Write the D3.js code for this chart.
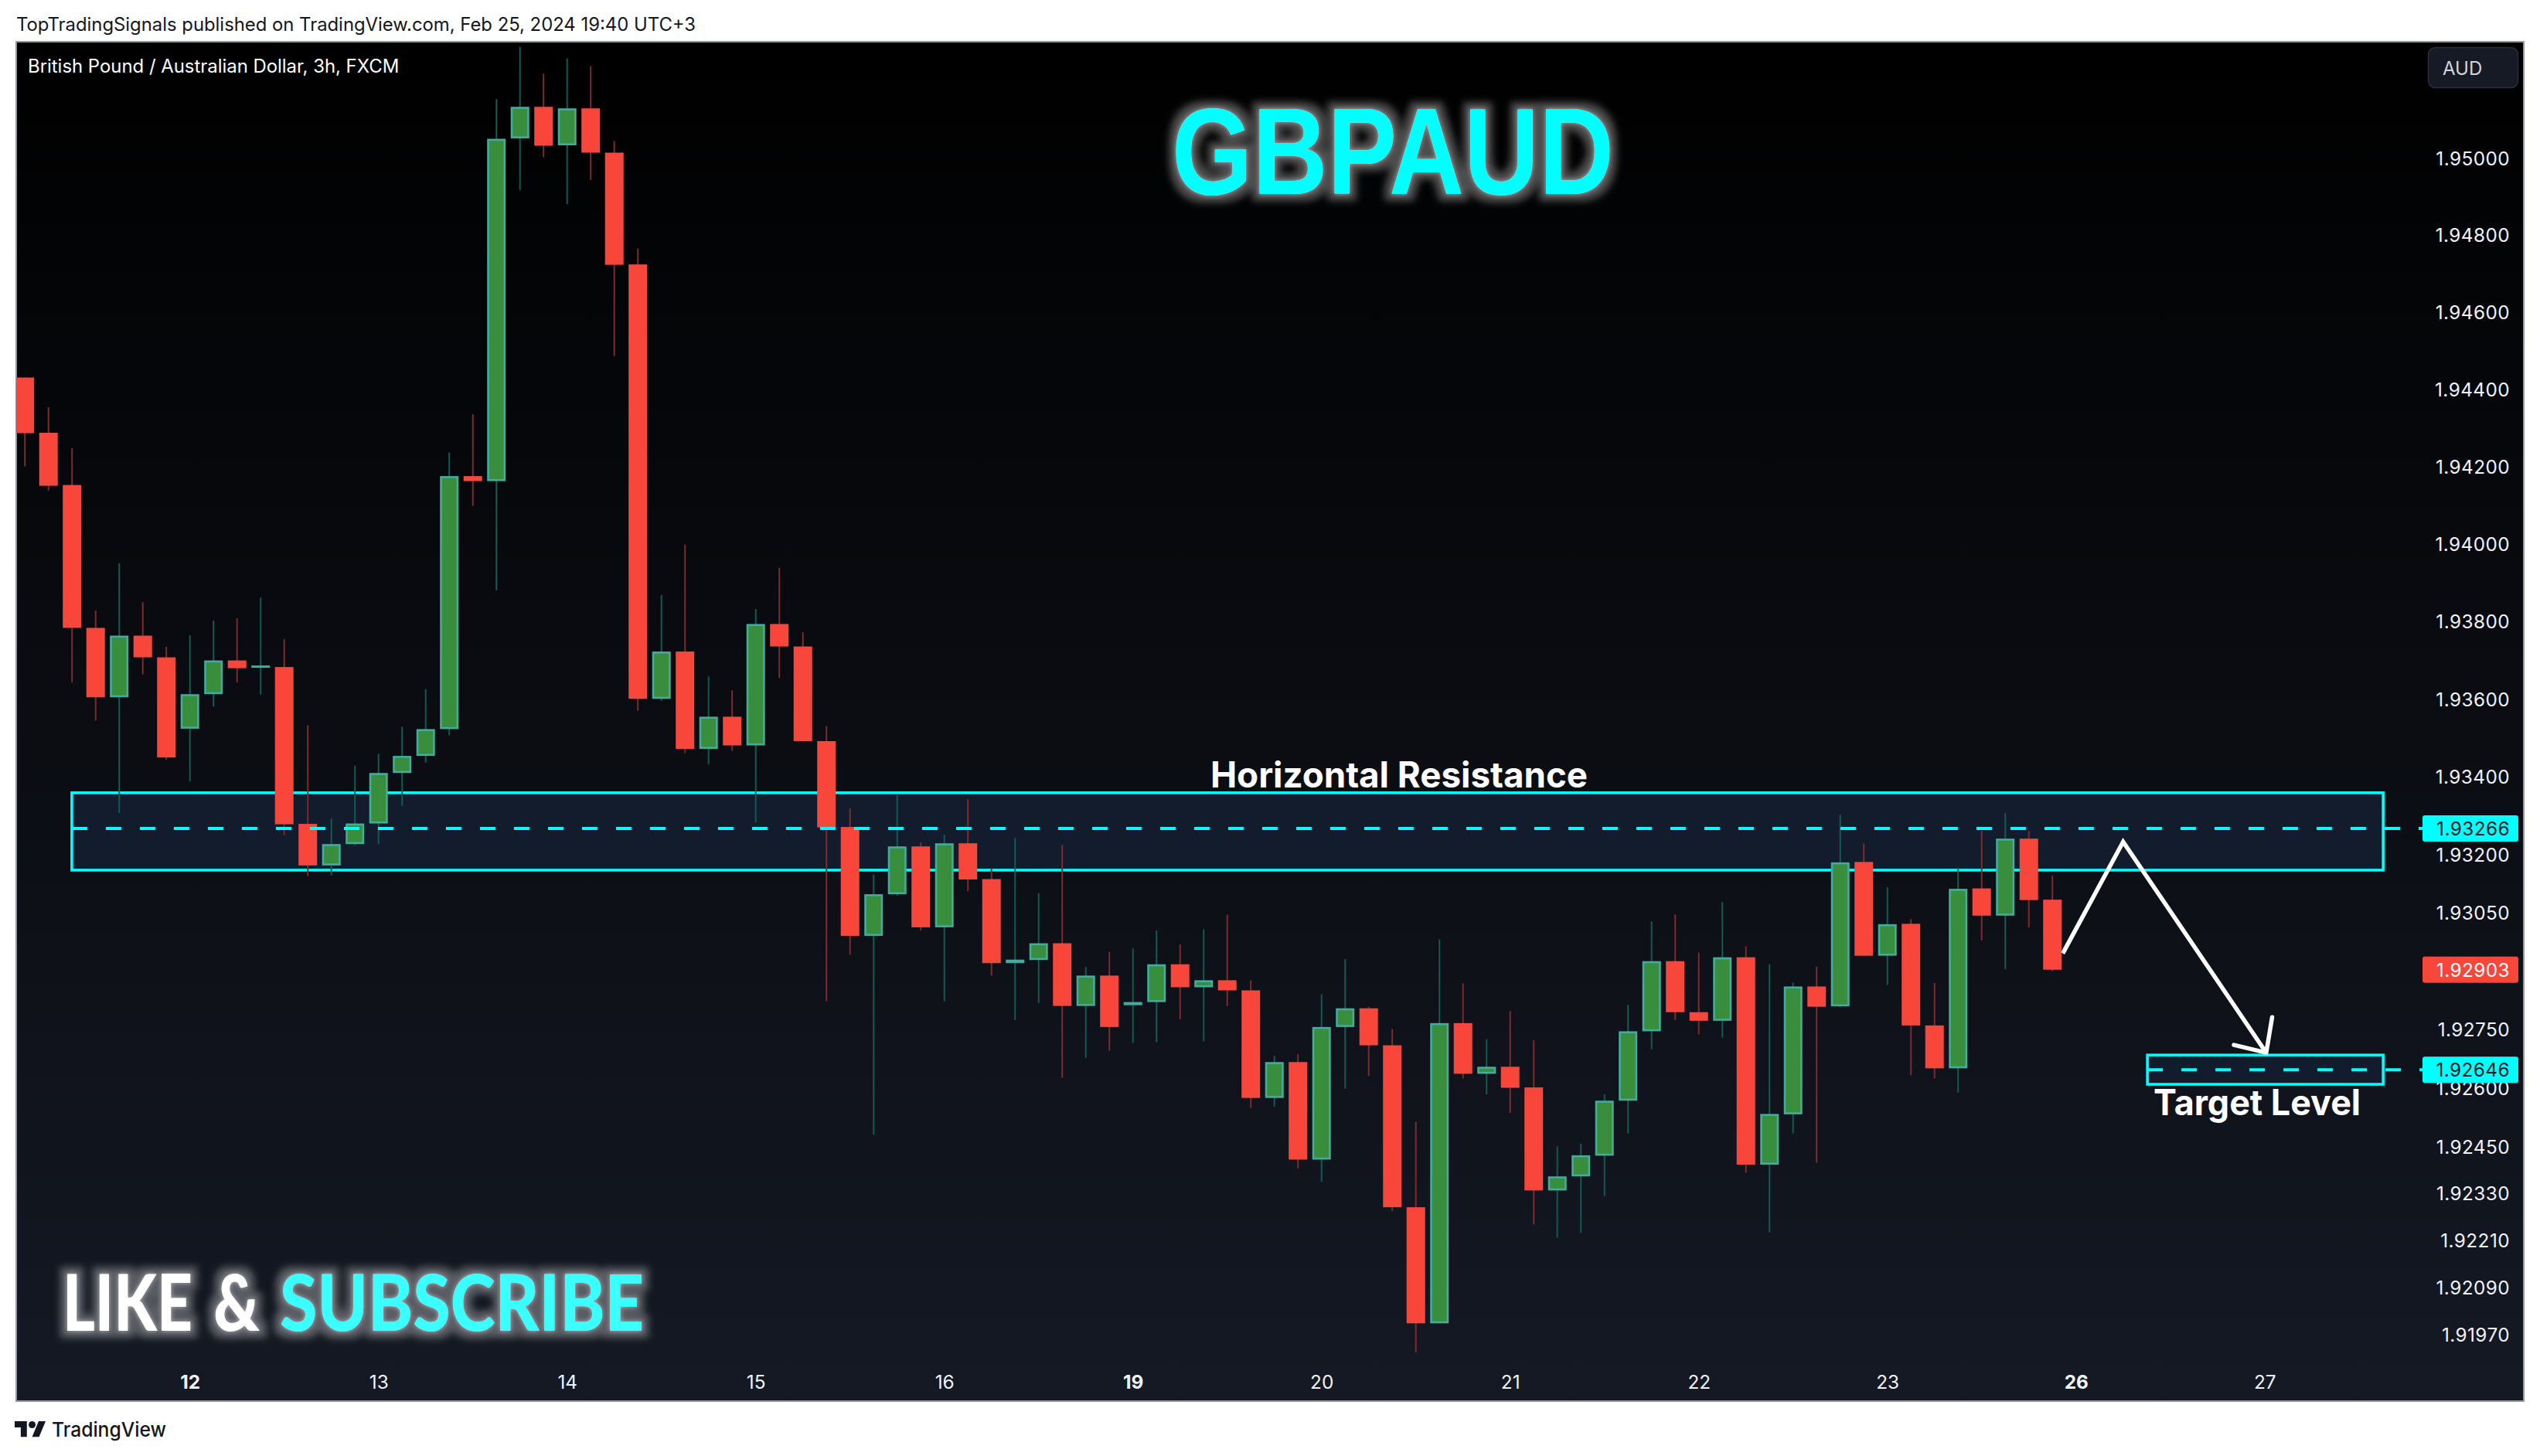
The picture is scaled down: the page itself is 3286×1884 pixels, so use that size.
<!DOCTYPE html>
<html><head><meta charset="utf-8">
<script src="https://cdn.jsdelivr.net/npm/d3@7/dist/d3.min.js"></script>
<style>
html,body{margin:0;padding:0;background:#fff;}
svg{display:block;}
text{font-family:Inter,"Liberation Sans",sans-serif;}
</style></head><body>
<svg id="c" width="3286" height="1884"></svg>
<script>
const highs=[1.94430,1.94353,1.94247,1.93828,1.93950,1.93849,1.93734,1.93764,1.93802,1.93808,1.93861,1.93754,1.93532,1.93292,1.93428,1.93458,1.93528,1.93625,1.94236,1.94335,1.95152,1.95288,1.95218,1.95258,1.95238,1.95043,1.94764,1.93868,1.93998,1.93658,1.93622,1.93832,1.93938,1.93772,1.93530,1.93318,1.93148,1.93352,1.93230,1.93250,1.93342,1.93164,1.93242,1.93100,1.93224,1.92910,1.92949,1.92958,1.93004,1.92968,1.93007,1.93044,1.92876,1.92682,1.92686,1.92840,1.92930,1.92808,1.92751,1.92513,1.92981,1.92868,1.92725,1.92797,1.92722,1.92450,1.92457,1.92583,1.92813,1.93027,1.93045,1.92947,1.93077,1.92963,1.92917,1.92870,1.92911,1.93302,1.93228,1.93115,1.93033,1.92869,1.93166,1.93260,1.93306,1.93259,1.93145];
const opens=[1.94430,1.94287,1.94152,1.93783,1.93604,1.93763,1.93707,1.93523,1.93612,1.93699,1.93682,1.93682,1.93278,1.93171,1.93226,1.93279,1.93409,1.93453,1.93522,1.94175,1.94162,1.95050,1.95132,1.95032,1.95128,1.95013,1.94723,1.93600,1.93722,1.93471,1.93554,1.93480,1.93793,1.93735,1.93491,1.93270,1.92990,1.93097,1.93220,1.93012,1.93228,1.93136,1.92920,1.92928,1.92971,1.92810,1.92888,1.92812,1.92820,1.92917,1.92858,1.92876,1.92850,1.92574,1.92666,1.92416,1.92756,1.92804,1.92709,1.92294,1.91997,1.92766,1.92636,1.92654,1.92601,1.92337,1.92373,1.92426,1.92567,1.92745,1.92925,1.92794,1.92772,1.92935,1.92403,1.92532,1.92860,1.92809,1.93180,1.92939,1.93021,1.92760,1.92650,1.93112,1.93042,1.93240,1.93083];
const closes=[1.94286,1.94150,1.93783,1.93604,1.93763,1.93707,1.93449,1.93612,1.93699,1.93679,1.93684,1.93277,1.93171,1.93226,1.93279,1.93409,1.93453,1.93522,1.94175,1.94162,1.95049,1.95132,1.95031,1.95128,1.95013,1.94722,1.93600,1.93722,1.93471,1.93554,1.93480,1.93793,1.93735,1.93491,1.93269,1.92990,1.93097,1.93220,1.93012,1.93228,1.93135,1.92920,1.92929,1.92971,1.92810,1.92888,1.92756,1.92820,1.92917,1.92858,1.92876,1.92850,1.92574,1.92666,1.92416,1.92756,1.92804,1.92709,1.92294,1.91997,1.92766,1.92636,1.92654,1.92600,1.92337,1.92373,1.92427,1.92567,1.92745,1.92925,1.92794,1.92772,1.92935,1.92403,1.92533,1.92860,1.92808,1.93179,1.92939,1.93020,1.92760,1.92650,1.93111,1.93042,1.93240,1.93082,1.92903];
const lows=[1.94200,1.94138,1.93643,1.93544,1.93306,1.93663,1.93443,1.93387,1.93580,1.93642,1.93611,1.93249,1.93144,1.93145,1.93222,1.93226,1.93325,1.93436,1.93506,1.94098,1.93880,1.94916,1.95001,1.94879,1.94942,1.94486,1.93569,1.93595,1.93460,1.93431,1.93466,1.93281,1.93654,1.93491,1.92822,1.92942,1.92480,1.93093,1.93004,1.92822,1.93105,1.92888,1.92774,1.92818,1.92626,1.92677,1.92695,1.92715,1.92717,1.92776,1.92719,1.92810,1.92548,1.92552,1.92393,1.92359,1.92598,1.92630,1.92284,1.91923,1.91997,1.92624,1.92583,1.92536,1.92250,1.92216,1.92228,1.92323,1.92483,1.92699,1.92774,1.92737,1.92729,1.92383,1.92230,1.92483,1.92408,1.92807,1.92939,1.92864,1.92632,1.92624,1.92588,1.92978,1.92904,1.93012,1.92899];

const priceTicks=[1.95,1.948,1.946,1.944,1.942,1.94,1.938,1.936,1.934,1.932,1.9305,1.9275,1.926,1.9245,1.9233,1.9221,1.9209,1.9197];
const dayIndex=[7,15,23,31,39,47,55,63,71,79,87,95];
const dayLabels=["12","13","14","15","16","19","20","21","22","23","26","27"];
const boldDays=["12","19","26"];

const resistanceBand=[1.93358,1.93159], resistanceLevel=1.93266, bandStart=1.99, bandEnd=100.03;
const targetBand=[1.92684,1.92609], targetLevel=1.92646, targetStart=90.03;
const lastPrice=1.92903;
const arrowPath=[[86.44,1.92945],[89.0,1.93232],[95.07,1.92690]];
const arrowHead=[[93.7,1.92710],[95.07,1.92690],[95.32,1.92781]];

const W=3286,H=1884,pL=21,pT=54,pR=3265,pB=1813;
const x=d3.scaleLinear().domain([0,95]).range([32.2,2929.7]);
const y=d3.scaleLog().domain([1.95,1.9197]).range([204,1726]);
const svg=d3.select('#c');
const defs=svg.append('defs');
const grad=defs.append('linearGradient').attr('id','bg').attr('gradientUnits','userSpaceOnUse').attr('x1',0).attr('x2',0).attr('y1',pT).attr('y2',pB);
grad.append('stop').attr('offset',0).attr('stop-color','#000000');
grad.append('stop').attr('offset',1).attr('stop-color','#151924');
defs.append('clipPath').attr('id','plot').append('rect').attr('x',pL).attr('y',pT).attr('width',pR-pL).attr('height',pB-pT);
function glow(id,dil,std,op){
  const f=defs.append('filter').attr('id',id).attr('filterUnits','userSpaceOnUse').attr('x',0).attr('y',0).attr('width',W).attr('height',H);
  f.append('feMorphology').attr('in','SourceAlpha').attr('operator','dilate').attr('radius',dil).attr('result','d');
  f.append('feGaussianBlur').attr('in','d').attr('stdDeviation',std).attr('result','b');
  f.append('feFlood').attr('flood-color','#ffffff').attr('flood-opacity',op).attr('result','fl');
  f.append('feComposite').attr('in','fl').attr('in2','b').attr('operator','in').attr('result','g');
  f.append('feGaussianBlur').attr('in','SourceAlpha').attr('stdDeviation',3).attr('result','n');
  f.append('feFlood').attr('flood-color','#ffffff').attr('flood-opacity',0.55).attr('result','fl2');
  f.append('feComposite').attr('in','fl2').attr('in2','n').attr('operator','in').attr('result','g2');
  const m=f.append('feMerge');
  m.append('feMergeNode').attr('in','g');m.append('feMergeNode').attr('in','g2');m.append('feMergeNode').attr('in','SourceGraphic');
}
glow('glowA',9,5,0.3);glow('glowB',9,5,0.3);

svg.append('rect').attr('width',W).attr('height',H).attr('fill','#ffffff');
svg.append('text').attr('x',21).attr('y',40).attr('font-size',23.85).attr('fill','#131722').text('TopTradingSignals published on TradingView.com, Feb 25, 2024 19:40 UTC+3');
svg.append('rect').attr('x',pL).attr('y',pT).attr('width',pR-pL).attr('height',pB-pT).attr('fill','url(#bg)').attr('stroke','#9598a1').attr('stroke-width',2);
svg.append('text').attr('x',36).attr('y',94).attr('font-size',23.9).attr('fill','#ffffff').text('British Pound / Australian Dollar, 3h, FXCM');

// bands under candles
const bands=svg.append('g');
function band(x0,x1,b){
  bands.append('rect').attr('x',x(x0)).attr('y',y(b[0])).attr('width',x(x1)-x(x0)).attr('height',y(b[1])-y(b[0]))
    .attr('fill','#121c2d').attr('stroke','#00ffff').attr('stroke-width',3.6);
}
band(bandStart,bandEnd,resistanceBand);
band(targetStart,bandEnd,targetBand);

// candles
const idx=d3.range(closes.length);
const cg=svg.append('g').attr('clip-path','url(#plot)');
const cw=24,sw=2.6;
const up=i=>closes[i]>=opens[i];
cg.selectAll('line.w').data(idx).join('line').attr('class','w')
  .attr('x1',i=>x(i)).attr('x2',i=>x(i)).attr('y1',i=>y(highs[i])).attr('y2',i=>y(lows[i]))
  .attr('stroke',i=>up(i)?'#125a54':'#7d2b2b').attr('stroke-width',2);
cg.selectAll('rect.b').data(idx).join('rect').attr('class','b')
  .attr('x',i=>x(i)-cw/2+sw/2).attr('width',cw-sw)
  .attr('y',i=>{const t=y(Math.max(opens[i],closes[i])),b=y(Math.min(opens[i],closes[i]));return (b-t)<sw+.4?(t+b)/2-.2:t+sw/2;})
  .attr('height',i=>{const t=y(Math.max(opens[i],closes[i])),b=y(Math.min(opens[i],closes[i]));return Math.max(.4,b-t-sw);})
  .attr('fill',i=>up(i)?'#388e3c':'#f8463b').attr('stroke',i=>up(i)?'#45ab9c':'#ef4a40').attr('stroke-width',sw);

// level lines
function level(x0,p){
  svg.append('line').attr('x1',x(x0)).attr('x2',3134).attr('y1',y(p)).attr('y2',y(p))
    .attr('stroke','#00ffff').attr('stroke-width',4).attr('stroke-dasharray','20 24');
}
level(bandStart,resistanceLevel);
level(targetStart,targetLevel);

// annotation arrow
const ln=d3.line().x(d=>x(d[0])).y(d=>y(d[1]));
svg.append('path').attr('d',ln(arrowPath)).attr('fill','none').attr('stroke','#ffffff').attr('stroke-width',5.5).attr('stroke-linejoin','miter');
svg.append('path').attr('d',ln(arrowHead)).attr('fill','none').attr('stroke','#ffffff').attr('stroke-width',5.5).attr('stroke-linecap','round').attr('stroke-linejoin','round');

svg.append('text').attr('x',1566).attr('y',1019).attr('font-size',46.5).attr('font-weight',700).attr('fill','#ffffff').attr('textLength',488).attr('lengthAdjust','spacingAndGlyphs').text('Horizontal Resistance');
svg.append('text').attr('x',2786).attr('y',1442.5).attr('font-size',46).attr('font-weight',700).attr('fill','#ffffff').attr('textLength',268).attr('lengthAdjust','spacingAndGlyphs').text('Target Level');

// title + promo
svg.append('text').attr('x',1516).attr('y',251).style('font-family','"Liberation Sans",Arial,sans-serif').attr('font-size',160).attr('font-weight',700).attr('fill','#00ffff')
  .attr('textLength',572).attr('lengthAdjust','spacingAndGlyphs').attr('filter','url(#glowA)').text('GBPAUD');
const promo=svg.append('g').attr('filter','url(#glowB)');
const ps=[['LIKE',81,168,'#ffffff'],['&',276,60,'#ffffff'],['SUBSCRIBE',362,471,'#3afeff']];
ps.forEach(p=>{
  const t=promo.append('text').attr('y',0).style('font-family','Lato,Inter,sans-serif').attr('font-size',101).attr('font-weight',900).attr('fill',p[3]).text(p[0]);
  const n=t.node().getComputedTextLength();
  t.attr('transform','translate('+p[1]+',1722) scale('+(p[2]/n)+',1)');
});

// axes
const ya=d3.axisRight(y).tickValues(priceTicks).tickFormat(d3.format('.5f')).tickSize(0).tickPadding(0);
const yg=svg.append('g').attr('transform','translate(3247,0)').call(ya);
yg.select('.domain').remove();
yg.selectAll('text').attr('text-anchor','end').attr('dy','0.37em').attr('font-size',24.3).attr('letter-spacing',0.45).attr('fill','#f0f3fa').style('font-family','Inter,sans-serif');
const xa=d3.axisBottom(x).tickValues(dayIndex).tickFormat((d,i)=>dayLabels[i]).tickSize(0).tickPadding(0);
const xg=svg.append('g').attr('transform','translate(0,1779.6)').call(xa);
xg.select('.domain').remove();
xg.selectAll('text').attr('font-size',24.3).attr('fill','#f0f3fa').style('font-family','Inter,sans-serif')
  .attr('font-weight',(d,i)=>boldDays.includes(dayLabels[i])?700:400);

// price tags
const tags=[[resistanceLevel,'#00ffff','#131722'],[lastPrice,'#f8463b','#ffffff'],[targetLevel,'#00ffff','#131722']];
tags.forEach(t=>{
  svg.append('rect').attr('x',3134).attr('y',y(t[0])-17).attr('width',124).attr('height',34).attr('rx',3).attr('fill',t[1]);
  svg.append('text').attr('x',3247).attr('y',y(t[0])).attr('dy','0.37em').attr('text-anchor','end').attr('font-size',24.3).attr('letter-spacing',0.45).attr('fill',t[2]).text(d3.format('.5f')(t[0]));
});

// currency button
svg.append('rect').attr('x',3141.5).attr('y',61.5).attr('width',116).attr('height',52).attr('rx',9).attr('fill','#161a25').attr('stroke','#2a2e39').attr('stroke-width',1.5);
svg.append('text').attr('x',3160).attr('y',96.5).attr('font-size',24).attr('fill','#d1d4dc').text('AUD');

// footer logo
const logo=svg.append('g').attr('transform','translate(19,1834.5) scale(1.127)').attr('fill','#131722');
logo.append('path').attr('d','M14 22H7V11H0V4h14v18zM28 22h-8l7.5-18h8L28 22z');
logo.append('circle').attr('cx',20).attr('cy',8).attr('r',4);
svg.append('text').attr('x',67).attr('y',1859).attr('font-size',26).attr('font-weight',500).attr('fill','#131722').attr('textLength',148).attr('lengthAdjust','spacingAndGlyphs').text('TradingView');
</script>
</body></html>
